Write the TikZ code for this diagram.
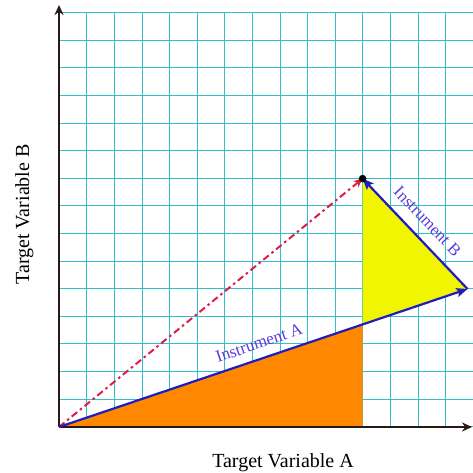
\documentclass[tikz,border=0pt]{standalone}
\usepackage{fontspec}
\setmainfont{Liberation Serif}
\usetikzlibrary{arrows.meta}
\definecolor{gridc}{RGB}{50,190,205}
\definecolor{orangef}{RGB}{255,136,0}
\definecolor{yellowf}{RGB}{242,245,0}
\definecolor{bluel}{RGB}{30,30,190}
\definecolor{redl}{RGB}{220,30,70}
\definecolor{labelc}{RGB}{90,60,220}
\definecolor{axisc}{RGB}{40,25,20}
\tikzset{
  gridline/.style={draw=gridc, line width=1pt},
  axisline/.style={draw=axisc, line width=1.8pt, -{Stealth[length=10pt,width=9pt]}},
  vecline/.style={draw=bluel, line width=2.2pt, -{Stealth[length=11pt,width=9pt,inset=2pt]}},
  reddash/.style={draw=redl, line width=2pt, dash pattern=on 7pt off 3.5pt on 2.5pt off 3.5pt, -{Stealth[length=9pt,width=8pt]}},
  instlabel/.style={text=labelc, font=\fontsize{17}{19}\selectfont, inner sep=0pt},
  axislabel/.style={text=black, font=\fontsize{20}{23}\selectfont, inner sep=0pt}
}
\begin{document}
\begin{tikzpicture}[x=1pt,y=1pt]
\useasboundingbox (-59,-46) rectangle (413,427);
% grid
\foreach \k in {0,...,15} {
  \draw[gridline] (\k*27.6+0.3,0) -- (\k*27.6+0.3,414);
  \draw[gridline] (0,\k*27.6+0.3) -- (414,\k*27.6+0.3);
}
\coordinate (O) at (0,0);
\coordinate (Aend) at (408.5,138);
\coordinate (Top) at (303.6,248.4);
\coordinate (Foot) at (303.6,0);
\coordinate (Mid) at (303.6,102.6);
\coordinate (Xend) at (413,0);
\coordinate (Yend) at (0,422);
% fills
\fill[orangef] (O) -- (Foot) -- (Mid) -- cycle;
\fill[yellowf] (Mid) -- (Aend) -- (Top) -- cycle;
% axes
\draw[axisline] (O) -- (Xend);
\draw[axisline] (O) -- (Yend);
% vectors
\draw[reddash] (O) -- (Top);
\draw[vecline] (O) -- (Aend);
\draw[vecline] (Aend) -- (Top);
\fill[black] (Top) circle (3.8);
% labels
\node[instlabel, rotate=18.67] (la) at (200,84) {Instrument A};
\node[instlabel, rotate=-46.5] (lb) at (368.5,205.5) {Instrument B};
\node[axislabel, anchor=base] (xa) at (224,-40) {Target Variable A};
\node[axislabel, anchor=base, rotate=90] (ya) at (-30,212.5) {Target Variable B};
\end{tikzpicture}
\end{document}
